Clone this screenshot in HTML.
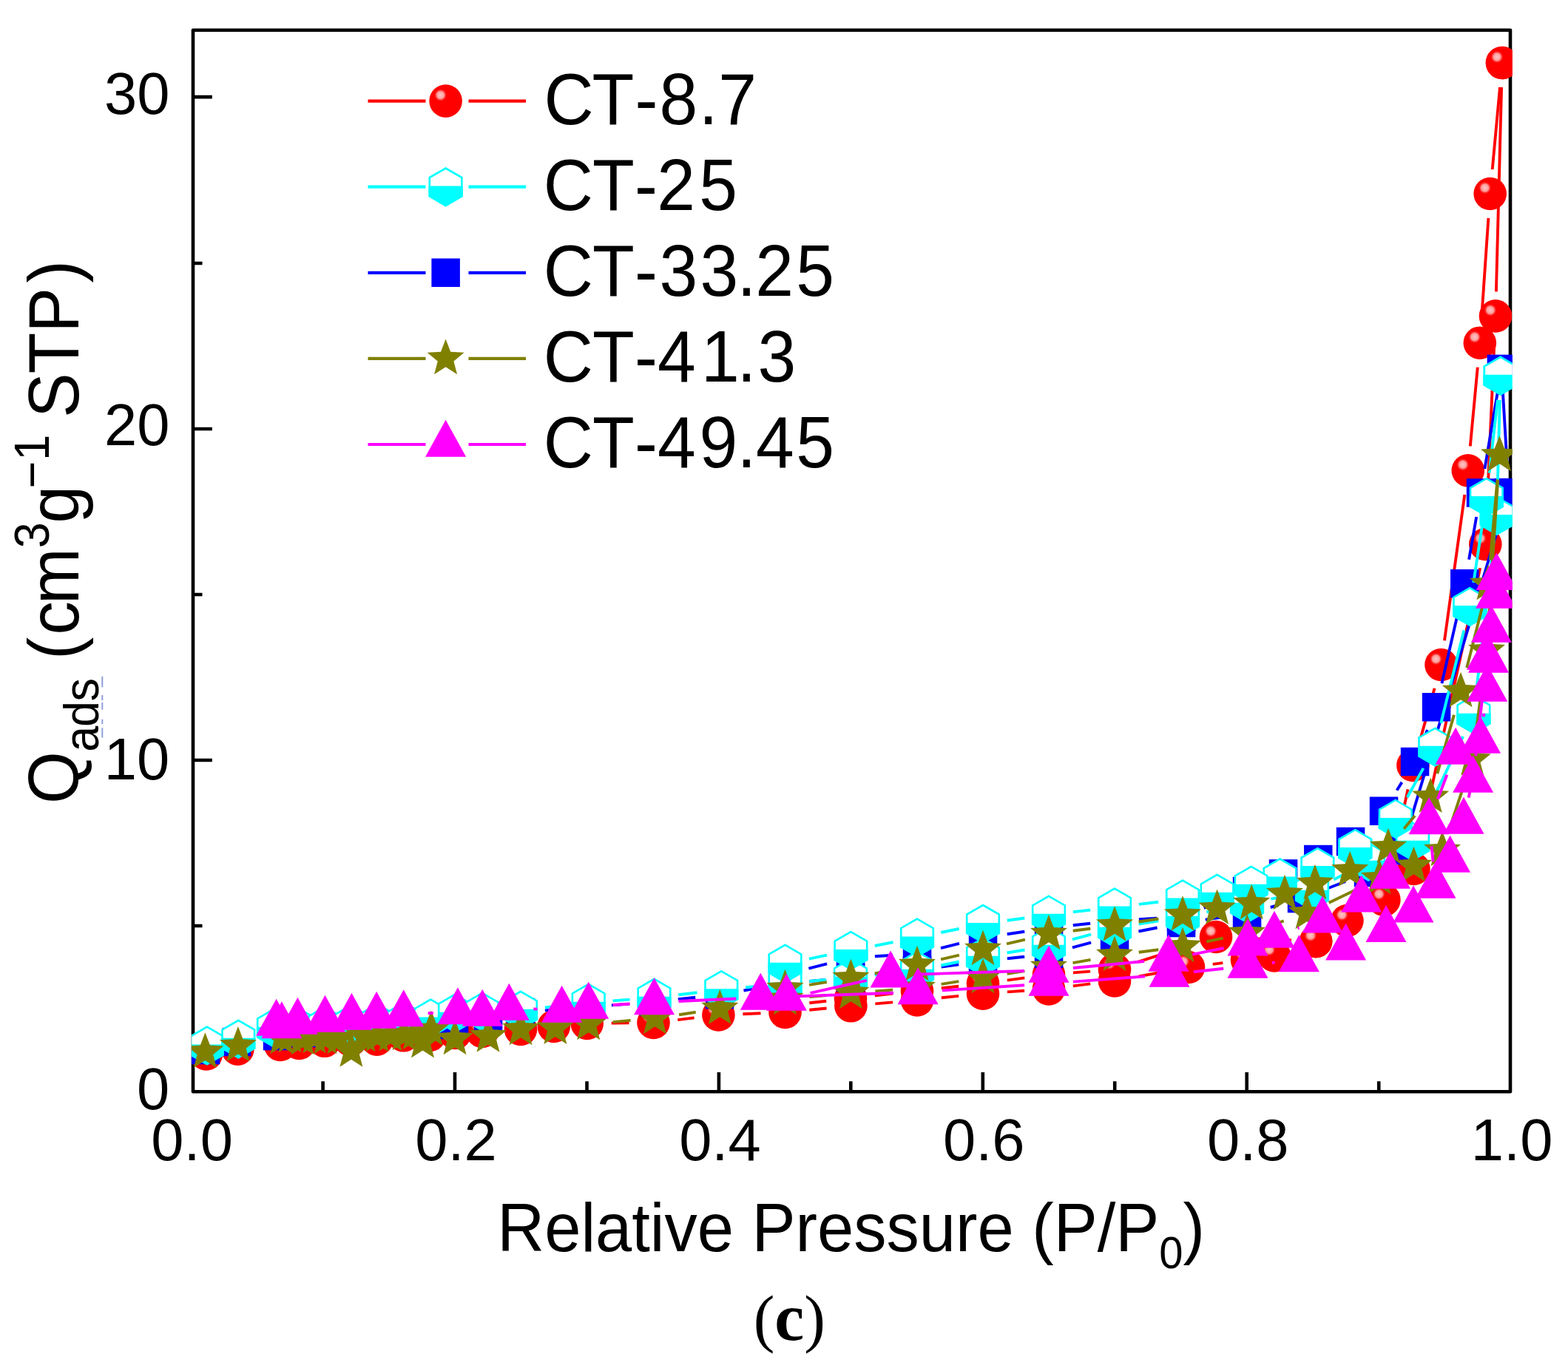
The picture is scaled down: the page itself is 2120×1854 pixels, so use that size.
<!DOCTYPE html><html><head><meta charset="utf-8"><title>Adsorption isotherms (c)</title><style>html,body{margin:0;padding:0;background:#fff;}svg{display:block;}</style></head><body>
<svg xmlns="http://www.w3.org/2000/svg" width="2120" height="1854" viewBox="0 0 2120 1854">
<defs><radialGradient id="ball" cx="0.5" cy="0.5" r="0.5" fx="0.5" fy="0.5"><stop offset="0" stop-color="#ff0000"/><stop offset="1" stop-color="#ff0000"/></radialGradient><radialGradient id="hl" cx="0.5" cy="0.5" r="0.5"><stop offset="0" stop-color="#ffc8c8"/><stop offset="0.55" stop-color="#ff9a9a"/><stop offset="1" stop-color="#ff0000" stop-opacity="0"/></radialGradient><clipPath id="plotclip"><rect x="259" y="38.5" width="1785.6" height="1440.5"/></clipPath></defs>
<rect width="2120" height="1854" fill="#fff"/>
<path d="M261 40.7H2042V1476.3H261Z" fill="none" stroke="#000" stroke-width="4.6" stroke-linejoin="round"/>
<path d="M261 1028.0H286.8M261 580.0H286.8M261 131.1H286.8M261 1252.0H273.5M261 804.0H273.5M261 356.0H273.5M615.0 1476V1450M971.9 1476V1450M1328.8 1476V1450M1685.7 1476V1450M436.6 1476V1462.3M793.5 1476V1462.3M1150.3 1476V1462.3M1507.2 1476V1462.3M1864.2 1476V1462.3" stroke="#000" stroke-width="4.6" fill="none"/>
<g clip-path="url(#plotclip)">
<path d="M826.7 1383.6L850.5 1383.4M916.3 1379.1L938.6 1376.4M1004.4 1371.2L1028.5 1370.3M1094.3 1365.8L1117.6 1363.5M1183.3 1357.4L1207.1 1355.4M1272.8 1349.3L1296.2 1346.9M1361.9 1341.4L1385.1 1339.7M1450.8 1333.4L1474.2 1330.4M1539.5 1320.4L1574.5 1314.0M1639.7 1303.9L1653.3 1302.1M1878.3 1184.6L1903.5 1067.3M1919.3 1003.2L1939.6 930.8M1953.0 866.3L1980.3 669.0M1987.8 603.4L1997.8 496.6M2003.1 430.8L2012.4 294.9M2017.7 229.1L2028.0 117.9" stroke="#ff0000" stroke-width="3.9" fill="none"/>
<path d="M2030.1 118.0L2022.9 394.4M2020.5 460.4L2009.8 703.0M2001.2 768.2L1918.5 1142.8M1884.9 1194.6L1805.5 1253.4M1746.0 1271.5L1677.0 1268.5M1612.6 1277.1L1538.4 1300.9M1474.1 1313.6L1450.9 1315.4M1385.3 1322.4L1361.7 1325.6M1296.2 1333.7L1272.8 1336.3M1207.2 1343.6L1182.8 1346.4M1117.2 1353.7L1094.3 1356.3" stroke="#ff0000" stroke-width="3.9" fill="none"/>
<circle cx="278.9" cy="1425.4" r="22.3" fill="url(#ball)"/>
<circle cx="271.9" cy="1417.4" r="9" fill="url(#hl)"/>
<circle cx="321.4" cy="1418.6" r="22.3" fill="url(#ball)"/>
<circle cx="314.4" cy="1410.6" r="9" fill="url(#hl)"/>
<circle cx="379.0" cy="1413.0" r="22.3" fill="url(#ball)"/>
<circle cx="372.0" cy="1405.0" r="9" fill="url(#hl)"/>
<circle cx="404.4" cy="1411.0" r="22.3" fill="url(#ball)"/>
<circle cx="397.4" cy="1403.0" r="9" fill="url(#hl)"/>
<circle cx="438.8" cy="1407.8" r="22.3" fill="url(#ball)"/>
<circle cx="431.8" cy="1399.8" r="9" fill="url(#hl)"/>
<circle cx="474.0" cy="1406.5" r="22.3" fill="url(#ball)"/>
<circle cx="467.0" cy="1398.5" r="9" fill="url(#hl)"/>
<circle cx="509.6" cy="1405.6" r="22.3" fill="url(#ball)"/>
<circle cx="502.6" cy="1397.6" r="9" fill="url(#hl)"/>
<circle cx="545.6" cy="1400.3" r="22.3" fill="url(#ball)"/>
<circle cx="538.6" cy="1392.3" r="9" fill="url(#hl)"/>
<circle cx="581.0" cy="1400.0" r="22.3" fill="url(#ball)"/>
<circle cx="574.0" cy="1392.0" r="9" fill="url(#hl)"/>
<circle cx="615.5" cy="1397.0" r="22.3" fill="url(#ball)"/>
<circle cx="608.5" cy="1389.0" r="9" fill="url(#hl)"/>
<circle cx="652.0" cy="1395.0" r="22.3" fill="url(#ball)"/>
<circle cx="645.0" cy="1387.0" r="9" fill="url(#hl)"/>
<circle cx="704.0" cy="1392.0" r="22.3" fill="url(#ball)"/>
<circle cx="697.0" cy="1384.0" r="9" fill="url(#hl)"/>
<circle cx="748.8" cy="1388.0" r="22.3" fill="url(#ball)"/>
<circle cx="741.8" cy="1380.0" r="9" fill="url(#hl)"/>
<circle cx="793.7" cy="1384.0" r="22.3" fill="url(#ball)"/>
<circle cx="786.7" cy="1376.0" r="9" fill="url(#hl)"/>
<circle cx="883.5" cy="1383.0" r="22.3" fill="url(#ball)"/>
<circle cx="876.5" cy="1375.0" r="9" fill="url(#hl)"/>
<circle cx="971.4" cy="1372.5" r="22.3" fill="url(#ball)"/>
<circle cx="964.4" cy="1364.5" r="9" fill="url(#hl)"/>
<circle cx="1061.5" cy="1369.0" r="22.3" fill="url(#ball)"/>
<circle cx="1054.5" cy="1361.0" r="9" fill="url(#hl)"/>
<circle cx="1150.4" cy="1360.3" r="22.3" fill="url(#ball)"/>
<circle cx="1143.4" cy="1352.3" r="9" fill="url(#hl)"/>
<circle cx="1240.0" cy="1352.5" r="22.3" fill="url(#ball)"/>
<circle cx="1233.0" cy="1344.5" r="9" fill="url(#hl)"/>
<circle cx="1329.0" cy="1343.7" r="22.3" fill="url(#ball)"/>
<circle cx="1322.0" cy="1335.7" r="9" fill="url(#hl)"/>
<circle cx="1418.0" cy="1337.4" r="22.3" fill="url(#ball)"/>
<circle cx="1411.0" cy="1329.4" r="9" fill="url(#hl)"/>
<circle cx="1507.0" cy="1326.4" r="22.3" fill="url(#ball)"/>
<circle cx="1500.0" cy="1318.4" r="9" fill="url(#hl)"/>
<circle cx="1607.0" cy="1308.0" r="22.3" fill="url(#ball)"/>
<circle cx="1600.0" cy="1300.0" r="9" fill="url(#hl)"/>
<circle cx="1686.0" cy="1298.0" r="22.3" fill="url(#ball)"/>
<circle cx="1679.0" cy="1290.0" r="9" fill="url(#hl)"/>
<circle cx="1723.0" cy="1292.4" r="22.3" fill="url(#ball)"/>
<circle cx="1716.0" cy="1284.4" r="9" fill="url(#hl)"/>
<circle cx="1779.2" cy="1273.1" r="22.3" fill="url(#ball)"/>
<circle cx="1772.2" cy="1265.1" r="9" fill="url(#hl)"/>
<circle cx="1821.4" cy="1245.0" r="22.3" fill="url(#ball)"/>
<circle cx="1814.4" cy="1237.0" r="9" fill="url(#hl)"/>
<circle cx="1871.4" cy="1216.9" r="22.3" fill="url(#ball)"/>
<circle cx="1864.4" cy="1208.9" r="9" fill="url(#hl)"/>
<circle cx="1910.4" cy="1035.0" r="22.3" fill="url(#ball)"/>
<circle cx="1903.4" cy="1027.0" r="9" fill="url(#hl)"/>
<circle cx="1948.5" cy="899.0" r="22.3" fill="url(#ball)"/>
<circle cx="1941.5" cy="891.0" r="9" fill="url(#hl)"/>
<circle cx="1984.8" cy="636.3" r="22.3" fill="url(#ball)"/>
<circle cx="1977.8" cy="628.3" r="9" fill="url(#hl)"/>
<circle cx="2000.8" cy="463.7" r="22.3" fill="url(#ball)"/>
<circle cx="1993.8" cy="455.7" r="9" fill="url(#hl)"/>
<circle cx="2014.7" cy="262.0" r="22.3" fill="url(#ball)"/>
<circle cx="2007.7" cy="254.0" r="9" fill="url(#hl)"/>
<circle cx="2031.0" cy="85.0" r="22.3" fill="url(#ball)"/>
<circle cx="2024.0" cy="77.0" r="9" fill="url(#hl)"/>
<circle cx="2031.0" cy="85.0" r="22.3" fill="url(#ball)"/>
<circle cx="2024.0" cy="77.0" r="9" fill="url(#hl)"/>
<circle cx="2022.0" cy="427.4" r="22.3" fill="url(#ball)"/>
<circle cx="2015.0" cy="419.4" r="9" fill="url(#hl)"/>
<circle cx="2008.3" cy="736.0" r="22.3" fill="url(#ball)"/>
<circle cx="2001.3" cy="728.0" r="9" fill="url(#hl)"/>
<circle cx="1911.4" cy="1175.0" r="22.3" fill="url(#ball)"/>
<circle cx="1904.4" cy="1167.0" r="9" fill="url(#hl)"/>
<circle cx="1779.0" cy="1273.0" r="22.3" fill="url(#ball)"/>
<circle cx="1772.0" cy="1265.0" r="9" fill="url(#hl)"/>
<circle cx="1644.0" cy="1267.0" r="22.3" fill="url(#ball)"/>
<circle cx="1637.0" cy="1259.0" r="9" fill="url(#hl)"/>
<circle cx="1507.0" cy="1311.0" r="22.3" fill="url(#ball)"/>
<circle cx="1500.0" cy="1303.0" r="9" fill="url(#hl)"/>
<circle cx="1418.0" cy="1318.0" r="22.3" fill="url(#ball)"/>
<circle cx="1411.0" cy="1310.0" r="9" fill="url(#hl)"/>
<circle cx="1329.0" cy="1330.0" r="22.3" fill="url(#ball)"/>
<circle cx="1322.0" cy="1322.0" r="9" fill="url(#hl)"/>
<circle cx="1240.0" cy="1340.0" r="22.3" fill="url(#ball)"/>
<circle cx="1233.0" cy="1332.0" r="9" fill="url(#hl)"/>
<circle cx="1150.0" cy="1350.0" r="22.3" fill="url(#ball)"/>
<circle cx="1143.0" cy="1342.0" r="9" fill="url(#hl)"/>
<circle cx="1061.5" cy="1360.0" r="22.3" fill="url(#ball)"/>
<circle cx="1054.5" cy="1352.0" r="9" fill="url(#hl)"/>
<path d="M736.9 1366.4L761.1 1364.6M826.9 1359.4L851.1 1357.6M916.8 1351.3L940.2 1348.7M1005.5 1339.5L1029.0 1335.5M1094.4 1327.0L1117.1 1325.0M1182.8 1318.4L1207.2 1315.6M1272.7 1307.6L1296.3 1304.4M1361.8 1296.3L1385.2 1293.7M1449.9 1281.4L1475.1 1274.6M1539.4 1259.5L1564.6 1254.5M1629.7 1243.6L1653.3 1240.4M1717.7 1227.0L1728.3 1224.0M1790.8 1203.0L1819.2 1192.0M1904.5 1118.4L2030.5 697.6M2038.0 633.1L2032.0 531.9" stroke="#0000ff" stroke-width="3.9" fill="none"/>
<path d="M2024.6 531.5L2007.4 634.0M1996.2 699.0L1986.1 756.6M1972.9 821.3L1949.4 924.1M1929.9 987.0L1925.1 999.3M1895.4 1057.9L1888.6 1068.8M1655.3 1217.1L1627.7 1227.9M1564.1 1241.8L1539.9 1243.2M1474.2 1248.7L1450.8 1251.3M1385.3 1259.8L1361.7 1263.2M1297.0 1275.9L1272.0 1282.1M1207.1 1291.8L1182.9 1293.2M1118.1 1303.3L1093.4 1309.7" stroke="#0000ff" stroke-width="3.9" fill="none"/>
<rect x="258.8" y="1400.8" width="38.5" height="38.5" fill="#0000ff"/>
<rect x="300.8" y="1389.8" width="38.5" height="38.5" fill="#0000ff"/>
<rect x="355.8" y="1381.8" width="38.5" height="38.5" fill="#0000ff"/>
<rect x="390.8" y="1377.8" width="38.5" height="38.5" fill="#0000ff"/>
<rect x="425.8" y="1374.8" width="38.5" height="38.5" fill="#0000ff"/>
<rect x="460.8" y="1372.8" width="38.5" height="38.5" fill="#0000ff"/>
<rect x="495.8" y="1371.8" width="38.5" height="38.5" fill="#0000ff"/>
<rect x="530.8" y="1369.8" width="38.5" height="38.5" fill="#0000ff"/>
<rect x="565.8" y="1366.8" width="38.5" height="38.5" fill="#0000ff"/>
<rect x="594.8" y="1361.8" width="38.5" height="38.5" fill="#0000ff"/>
<rect x="640.8" y="1355.8" width="38.5" height="38.5" fill="#0000ff"/>
<rect x="684.8" y="1349.8" width="38.5" height="38.5" fill="#0000ff"/>
<rect x="774.8" y="1342.8" width="38.5" height="38.5" fill="#0000ff"/>
<rect x="864.8" y="1335.8" width="38.5" height="38.5" fill="#0000ff"/>
<rect x="953.8" y="1325.8" width="38.5" height="38.5" fill="#0000ff"/>
<rect x="1042.2" y="1310.8" width="38.5" height="38.5" fill="#0000ff"/>
<rect x="1130.8" y="1302.8" width="38.5" height="38.5" fill="#0000ff"/>
<rect x="1220.8" y="1292.8" width="38.5" height="38.5" fill="#0000ff"/>
<rect x="1309.8" y="1280.8" width="38.5" height="38.5" fill="#0000ff"/>
<rect x="1398.8" y="1270.8" width="38.5" height="38.5" fill="#0000ff"/>
<rect x="1487.8" y="1246.8" width="38.5" height="38.5" fill="#0000ff"/>
<rect x="1577.8" y="1228.8" width="38.5" height="38.5" fill="#0000ff"/>
<rect x="1666.8" y="1216.8" width="38.5" height="38.5" fill="#0000ff"/>
<rect x="1740.8" y="1195.8" width="38.5" height="38.5" fill="#0000ff"/>
<rect x="1830.8" y="1160.8" width="38.5" height="38.5" fill="#0000ff"/>
<rect x="1875.8" y="1130.8" width="38.5" height="38.5" fill="#0000ff"/>
<rect x="2020.8" y="646.8" width="38.5" height="38.5" fill="#0000ff"/>
<rect x="2010.8" y="479.8" width="38.5" height="38.5" fill="#0000ff"/>
<rect x="2010.8" y="479.8" width="38.5" height="38.5" fill="#0000ff"/>
<rect x="1982.8" y="647.2" width="38.5" height="38.5" fill="#0000ff"/>
<rect x="1961.0" y="769.9" width="38.5" height="38.5" fill="#0000ff"/>
<rect x="1922.8" y="937.0" width="38.5" height="38.5" fill="#0000ff"/>
<rect x="1893.8" y="1010.8" width="38.5" height="38.5" fill="#0000ff"/>
<rect x="1851.8" y="1077.5" width="38.5" height="38.5" fill="#0000ff"/>
<rect x="1806.8" y="1118.8" width="38.5" height="38.5" fill="#0000ff"/>
<rect x="1763.0" y="1142.8" width="38.5" height="38.5" fill="#0000ff"/>
<rect x="1715.8" y="1162.2" width="38.5" height="38.5" fill="#0000ff"/>
<rect x="1666.8" y="1185.8" width="38.5" height="38.5" fill="#0000ff"/>
<rect x="1577.8" y="1220.8" width="38.5" height="38.5" fill="#0000ff"/>
<rect x="1487.8" y="1225.8" width="38.5" height="38.5" fill="#0000ff"/>
<rect x="1398.8" y="1235.8" width="38.5" height="38.5" fill="#0000ff"/>
<rect x="1309.8" y="1248.8" width="38.5" height="38.5" fill="#0000ff"/>
<rect x="1220.8" y="1270.8" width="38.5" height="38.5" fill="#0000ff"/>
<rect x="1130.8" y="1275.8" width="38.5" height="38.5" fill="#0000ff"/>
<rect x="1042.2" y="1298.8" width="38.5" height="38.5" fill="#0000ff"/>
<path d="M736.8 1362.4L762.9 1359.6M828.6 1353.4L851.6 1351.6M917.3 1345.2L942.5 1342.3M1008.1 1335.3L1028.7 1333.2M1094.4 1327.0L1117.1 1325.0M1182.8 1318.4L1207.2 1315.6M1272.3 1305.5L1296.7 1300.5M1361.5 1288.5L1385.5 1284.5M1449.9 1270.4L1475.1 1263.6M1539.6 1249.7L1566.4 1245.3M1631.3 1233.3L1653.7 1228.7M1718.4 1215.7L1741.6 1211.3M1803.2 1189.6L1820.8 1180.4M1924.3 1108.2L1978.1 995.8M1996.2 933.2L2019.9 730.1M2024.6 664.3L2027.8 541.0" stroke="#00ffff" stroke-width="3.9" fill="none"/>
<path d="M2024.9 540.8L2013.6 639.6M2004.8 705.0L1992.3 787.7M1979.4 852.3L1948.2 978.0M1924.4 1038.9L1902.7 1078.3M1566.2 1219.7L1539.8 1222.9M1474.2 1230.6L1450.8 1233.2M1385.3 1241.5L1361.7 1244.7M1296.7 1256.0L1272.3 1261.0M1207.6 1274.1L1182.8 1279.0M1118.0 1291.7L1093.9 1296.6" stroke="#00ffff" stroke-width="3.9" fill="none"/>
<polygon points="279.9,1388.6 301.7,1401.2 301.7,1426.4 279.9,1439.0 258.1,1426.4 258.1,1401.2" fill="#fff" stroke="#00ffff" stroke-width="2.6"/><polygon points="301.7,1413.8 301.7,1426.4 279.9,1439.0 258.1,1426.4 258.1,1413.8" fill="#00ffff" stroke="#00ffff" stroke-width="2.6"/>
<polygon points="322.3,1379.8 344.1,1392.4 344.1,1417.6 322.3,1430.2 300.5,1417.6 300.5,1392.4" fill="#fff" stroke="#00ffff" stroke-width="2.6"/><polygon points="344.1,1405.0 344.1,1417.6 322.3,1430.2 300.5,1417.6 300.5,1405.0" fill="#00ffff" stroke="#00ffff" stroke-width="2.6"/>
<polygon points="370.0,1364.8 391.8,1377.4 391.8,1402.6 370.0,1415.2 348.2,1402.6 348.2,1377.4" fill="#fff" stroke="#00ffff" stroke-width="2.6"/><polygon points="391.8,1390.0 391.8,1402.6 370.0,1415.2 348.2,1402.6 348.2,1390.0" fill="#00ffff" stroke="#00ffff" stroke-width="2.6"/>
<polygon points="404.0,1363.8 425.8,1376.4 425.8,1401.6 404.0,1414.2 382.2,1401.6 382.2,1376.4" fill="#fff" stroke="#00ffff" stroke-width="2.6"/><polygon points="425.8,1389.0 425.8,1401.6 404.0,1414.2 382.2,1401.6 382.2,1389.0" fill="#00ffff" stroke="#00ffff" stroke-width="2.6"/>
<polygon points="439.0,1361.8 460.8,1374.4 460.8,1399.6 439.0,1412.2 417.2,1399.6 417.2,1374.4" fill="#fff" stroke="#00ffff" stroke-width="2.6"/><polygon points="460.8,1387.0 460.8,1399.6 439.0,1412.2 417.2,1399.6 417.2,1387.0" fill="#00ffff" stroke="#00ffff" stroke-width="2.6"/>
<polygon points="474.0,1359.8 495.8,1372.4 495.8,1397.6 474.0,1410.2 452.2,1397.6 452.2,1372.4" fill="#fff" stroke="#00ffff" stroke-width="2.6"/><polygon points="495.8,1385.0 495.8,1397.6 474.0,1410.2 452.2,1397.6 452.2,1385.0" fill="#00ffff" stroke="#00ffff" stroke-width="2.6"/>
<polygon points="510.0,1357.8 531.8,1370.4 531.8,1395.6 510.0,1408.2 488.2,1395.6 488.2,1370.4" fill="#fff" stroke="#00ffff" stroke-width="2.6"/><polygon points="531.8,1383.0 531.8,1395.6 510.0,1408.2 488.2,1395.6 488.2,1383.0" fill="#00ffff" stroke="#00ffff" stroke-width="2.6"/>
<polygon points="546.0,1355.8 567.8,1368.4 567.8,1393.6 546.0,1406.2 524.2,1393.6 524.2,1368.4" fill="#fff" stroke="#00ffff" stroke-width="2.6"/><polygon points="567.8,1381.0 567.8,1393.6 546.0,1406.2 524.2,1393.6 524.2,1381.0" fill="#00ffff" stroke="#00ffff" stroke-width="2.6"/>
<polygon points="582.3,1351.6 604.1,1364.2 604.1,1389.4 582.3,1402.0 560.5,1389.4 560.5,1364.2" fill="#fff" stroke="#00ffff" stroke-width="2.6"/><polygon points="604.1,1376.8 604.1,1389.4 582.3,1402.0 560.5,1389.4 560.5,1376.8" fill="#00ffff" stroke="#00ffff" stroke-width="2.6"/>
<polygon points="615.0,1344.8 636.8,1357.4 636.8,1382.6 615.0,1395.2 593.2,1382.6 593.2,1357.4" fill="#fff" stroke="#00ffff" stroke-width="2.6"/><polygon points="636.8,1370.0 636.8,1382.6 615.0,1395.2 593.2,1382.6 593.2,1370.0" fill="#00ffff" stroke="#00ffff" stroke-width="2.6"/>
<polygon points="652.0,1342.8 673.8,1355.4 673.8,1380.6 652.0,1393.2 630.2,1380.6 630.2,1355.4" fill="#fff" stroke="#00ffff" stroke-width="2.6"/><polygon points="673.8,1368.0 673.8,1380.6 652.0,1393.2 630.2,1380.6 630.2,1368.0" fill="#00ffff" stroke="#00ffff" stroke-width="2.6"/>
<polygon points="704.0,1340.8 725.8,1353.4 725.8,1378.6 704.0,1391.2 682.2,1378.6 682.2,1353.4" fill="#fff" stroke="#00ffff" stroke-width="2.6"/><polygon points="725.8,1366.0 725.8,1378.6 704.0,1391.2 682.2,1378.6 682.2,1366.0" fill="#00ffff" stroke="#00ffff" stroke-width="2.6"/>
<polygon points="795.7,1330.8 817.5,1343.4 817.5,1368.6 795.7,1381.2 773.9,1368.6 773.9,1343.4" fill="#fff" stroke="#00ffff" stroke-width="2.6"/><polygon points="817.5,1356.0 817.5,1368.6 795.7,1381.2 773.9,1368.6 773.9,1356.0" fill="#00ffff" stroke="#00ffff" stroke-width="2.6"/>
<polygon points="884.5,1323.8 906.3,1336.4 906.3,1361.6 884.5,1374.2 862.7,1361.6 862.7,1336.4" fill="#fff" stroke="#00ffff" stroke-width="2.6"/><polygon points="906.3,1349.0 906.3,1361.6 884.5,1374.2 862.7,1361.6 862.7,1349.0" fill="#00ffff" stroke="#00ffff" stroke-width="2.6"/>
<polygon points="975.3,1313.3 997.1,1325.9 997.1,1351.1 975.3,1363.7 953.5,1351.1 953.5,1325.9" fill="#fff" stroke="#00ffff" stroke-width="2.6"/><polygon points="997.1,1338.5 997.1,1351.1 975.3,1363.7 953.5,1351.1 953.5,1338.5" fill="#00ffff" stroke="#00ffff" stroke-width="2.6"/>
<polygon points="1061.5,1304.8 1083.3,1317.4 1083.3,1342.6 1061.5,1355.2 1039.7,1342.6 1039.7,1317.4" fill="#fff" stroke="#00ffff" stroke-width="2.6"/><polygon points="1083.3,1330.0 1083.3,1342.6 1061.5,1355.2 1039.7,1342.6 1039.7,1330.0" fill="#00ffff" stroke="#00ffff" stroke-width="2.6"/>
<polygon points="1150.0,1296.8 1171.8,1309.4 1171.8,1334.6 1150.0,1347.2 1128.2,1334.6 1128.2,1309.4" fill="#fff" stroke="#00ffff" stroke-width="2.6"/><polygon points="1171.8,1322.0 1171.8,1334.6 1150.0,1347.2 1128.2,1334.6 1128.2,1322.0" fill="#00ffff" stroke="#00ffff" stroke-width="2.6"/>
<polygon points="1240.0,1286.8 1261.8,1299.4 1261.8,1324.6 1240.0,1337.2 1218.2,1324.6 1218.2,1299.4" fill="#fff" stroke="#00ffff" stroke-width="2.6"/><polygon points="1261.8,1312.0 1261.8,1324.6 1240.0,1337.2 1218.2,1324.6 1218.2,1312.0" fill="#00ffff" stroke="#00ffff" stroke-width="2.6"/>
<polygon points="1329.0,1268.8 1350.8,1281.4 1350.8,1306.6 1329.0,1319.2 1307.2,1306.6 1307.2,1281.4" fill="#fff" stroke="#00ffff" stroke-width="2.6"/><polygon points="1350.8,1294.0 1350.8,1306.6 1329.0,1319.2 1307.2,1306.6 1307.2,1294.0" fill="#00ffff" stroke="#00ffff" stroke-width="2.6"/>
<polygon points="1418.0,1253.8 1439.8,1266.4 1439.8,1291.6 1418.0,1304.2 1396.2,1291.6 1396.2,1266.4" fill="#fff" stroke="#00ffff" stroke-width="2.6"/><polygon points="1439.8,1279.0 1439.8,1291.6 1418.0,1304.2 1396.2,1291.6 1396.2,1279.0" fill="#00ffff" stroke="#00ffff" stroke-width="2.6"/>
<polygon points="1507.0,1229.8 1528.8,1242.4 1528.8,1267.6 1507.0,1280.2 1485.2,1267.6 1485.2,1242.4" fill="#fff" stroke="#00ffff" stroke-width="2.6"/><polygon points="1528.8,1255.0 1528.8,1267.6 1507.0,1280.2 1485.2,1267.6 1485.2,1255.0" fill="#00ffff" stroke="#00ffff" stroke-width="2.6"/>
<polygon points="1599.0,1214.8 1620.8,1227.4 1620.8,1252.6 1599.0,1265.2 1577.2,1252.6 1577.2,1227.4" fill="#fff" stroke="#00ffff" stroke-width="2.6"/><polygon points="1620.8,1240.0 1620.8,1252.6 1599.0,1265.2 1577.2,1252.6 1577.2,1240.0" fill="#00ffff" stroke="#00ffff" stroke-width="2.6"/>
<polygon points="1686.0,1196.8 1707.8,1209.4 1707.8,1234.6 1686.0,1247.2 1664.2,1234.6 1664.2,1209.4" fill="#fff" stroke="#00ffff" stroke-width="2.6"/><polygon points="1707.8,1222.0 1707.8,1234.6 1686.0,1247.2 1664.2,1234.6 1664.2,1222.0" fill="#00ffff" stroke="#00ffff" stroke-width="2.6"/>
<polygon points="1774.0,1179.8 1795.8,1192.4 1795.8,1217.6 1774.0,1230.2 1752.2,1217.6 1752.2,1192.4" fill="#fff" stroke="#00ffff" stroke-width="2.6"/><polygon points="1795.8,1205.0 1795.8,1217.6 1774.0,1230.2 1752.2,1217.6 1752.2,1205.0" fill="#00ffff" stroke="#00ffff" stroke-width="2.6"/>
<polygon points="1850.0,1139.8 1871.8,1152.4 1871.8,1177.6 1850.0,1190.2 1828.2,1177.6 1828.2,1152.4" fill="#fff" stroke="#00ffff" stroke-width="2.6"/><polygon points="1871.8,1165.0 1871.8,1177.6 1850.0,1190.2 1828.2,1177.6 1828.2,1165.0" fill="#00ffff" stroke="#00ffff" stroke-width="2.6"/>
<polygon points="1910.0,1112.8 1931.8,1125.4 1931.8,1150.6 1910.0,1163.2 1888.2,1150.6 1888.2,1125.4" fill="#fff" stroke="#00ffff" stroke-width="2.6"/><polygon points="1931.8,1138.0 1931.8,1150.6 1910.0,1163.2 1888.2,1150.6 1888.2,1138.0" fill="#00ffff" stroke="#00ffff" stroke-width="2.6"/>
<polygon points="1992.4,940.8 2014.2,953.4 2014.2,978.6 1992.4,991.2 1970.6,978.6 1970.6,953.4" fill="#fff" stroke="#00ffff" stroke-width="2.6"/><polygon points="2014.2,966.0 2014.2,978.6 1992.4,991.2 1970.6,978.6 1970.6,966.0" fill="#00ffff" stroke="#00ffff" stroke-width="2.6"/>
<polygon points="2023.7,672.1 2045.5,684.7 2045.5,709.9 2023.7,722.5 2001.9,709.9 2001.9,684.7" fill="#fff" stroke="#00ffff" stroke-width="2.6"/><polygon points="2045.5,697.3 2045.5,709.9 2023.7,722.5 2001.9,709.9 2001.9,697.3" fill="#00ffff" stroke="#00ffff" stroke-width="2.6"/>
<polygon points="2028.7,482.8 2050.5,495.4 2050.5,520.6 2028.7,533.2 2006.9,520.6 2006.9,495.4" fill="#fff" stroke="#00ffff" stroke-width="2.6"/><polygon points="2050.5,508.0 2050.5,520.6 2028.7,533.2 2006.9,520.6 2006.9,508.0" fill="#00ffff" stroke="#00ffff" stroke-width="2.6"/>
<polygon points="2028.7,482.8 2050.5,495.4 2050.5,520.6 2028.7,533.2 2006.9,520.6 2006.9,495.4" fill="#fff" stroke="#00ffff" stroke-width="2.6"/><polygon points="2050.5,508.0 2050.5,520.6 2028.7,533.2 2006.9,520.6 2006.9,508.0" fill="#00ffff" stroke="#00ffff" stroke-width="2.6"/>
<polygon points="2009.8,647.2 2031.6,659.8 2031.6,685.0 2009.8,697.6 1988.0,685.0 1988.0,659.8" fill="#fff" stroke="#00ffff" stroke-width="2.6"/><polygon points="2031.6,672.4 2031.6,685.0 2009.8,697.6 1988.0,685.0 1988.0,672.4" fill="#00ffff" stroke="#00ffff" stroke-width="2.6"/>
<polygon points="1987.3,795.1 2009.1,807.7 2009.1,832.9 1987.3,845.5 1965.5,832.9 1965.5,807.7" fill="#fff" stroke="#00ffff" stroke-width="2.6"/><polygon points="2009.1,820.3 2009.1,832.9 1987.3,845.5 1965.5,832.9 1965.5,820.3" fill="#00ffff" stroke="#00ffff" stroke-width="2.6"/>
<polygon points="1940.3,984.8 1962.1,997.4 1962.1,1022.6 1940.3,1035.2 1918.5,1022.6 1918.5,997.4" fill="#fff" stroke="#00ffff" stroke-width="2.6"/><polygon points="1962.1,1010.0 1962.1,1022.6 1940.3,1035.2 1918.5,1022.6 1918.5,1010.0" fill="#00ffff" stroke="#00ffff" stroke-width="2.6"/>
<polygon points="1886.8,1082.0 1908.6,1094.7 1908.6,1119.8 1886.8,1132.5 1865.0,1119.8 1865.0,1094.7" fill="#fff" stroke="#00ffff" stroke-width="2.6"/><polygon points="1908.6,1107.2 1908.6,1119.8 1886.8,1132.5 1865.0,1119.8 1865.0,1107.2" fill="#00ffff" stroke="#00ffff" stroke-width="2.6"/>
<polygon points="1832.3,1122.2 1854.1,1134.8 1854.1,1160.0 1832.3,1172.6 1810.5,1160.0 1810.5,1134.8" fill="#fff" stroke="#00ffff" stroke-width="2.6"/><polygon points="1854.1,1147.4 1854.1,1160.0 1832.3,1172.6 1810.5,1160.0 1810.5,1147.4" fill="#00ffff" stroke="#00ffff" stroke-width="2.6"/>
<polygon points="1781.4,1147.2 1803.2,1159.8 1803.2,1185.0 1781.4,1197.6 1759.6,1185.0 1759.6,1159.8" fill="#fff" stroke="#00ffff" stroke-width="2.6"/><polygon points="1803.2,1172.4 1803.2,1185.0 1781.4,1197.6 1759.6,1185.0 1759.6,1172.4" fill="#00ffff" stroke="#00ffff" stroke-width="2.6"/>
<polygon points="1730.5,1161.5 1752.3,1174.1 1752.3,1199.3 1730.5,1211.9 1708.7,1199.3 1708.7,1174.1" fill="#fff" stroke="#00ffff" stroke-width="2.6"/><polygon points="1752.3,1186.7 1752.3,1199.3 1730.5,1211.9 1708.7,1199.3 1708.7,1186.7" fill="#00ffff" stroke="#00ffff" stroke-width="2.6"/>
<polygon points="1691.7,1171.8 1713.5,1184.4 1713.5,1209.6 1691.7,1222.2 1669.9,1209.6 1669.9,1184.4" fill="#fff" stroke="#00ffff" stroke-width="2.6"/><polygon points="1713.5,1197.0 1713.5,1209.6 1691.7,1222.2 1669.9,1209.6 1669.9,1197.0" fill="#00ffff" stroke="#00ffff" stroke-width="2.6"/>
<polygon points="1645.6,1182.8 1667.4,1195.4 1667.4,1220.6 1645.6,1233.2 1623.8,1220.6 1623.8,1195.4" fill="#fff" stroke="#00ffff" stroke-width="2.6"/><polygon points="1667.4,1208.0 1667.4,1220.6 1645.6,1233.2 1623.8,1220.6 1623.8,1208.0" fill="#00ffff" stroke="#00ffff" stroke-width="2.6"/>
<polygon points="1599.0,1190.6 1620.8,1203.2 1620.8,1228.4 1599.0,1241.0 1577.2,1228.4 1577.2,1203.2" fill="#fff" stroke="#00ffff" stroke-width="2.6"/><polygon points="1620.8,1215.8 1620.8,1228.4 1599.0,1241.0 1577.2,1228.4 1577.2,1215.8" fill="#00ffff" stroke="#00ffff" stroke-width="2.6"/>
<polygon points="1507.0,1201.6 1528.8,1214.2 1528.8,1239.4 1507.0,1252.0 1485.2,1239.4 1485.2,1214.2" fill="#fff" stroke="#00ffff" stroke-width="2.6"/><polygon points="1528.8,1226.8 1528.8,1239.4 1507.0,1252.0 1485.2,1239.4 1485.2,1226.8" fill="#00ffff" stroke="#00ffff" stroke-width="2.6"/>
<polygon points="1418.0,1211.8 1439.8,1224.4 1439.8,1249.6 1418.0,1262.2 1396.2,1249.6 1396.2,1224.4" fill="#fff" stroke="#00ffff" stroke-width="2.6"/><polygon points="1439.8,1237.0 1439.8,1249.6 1418.0,1262.2 1396.2,1249.6 1396.2,1237.0" fill="#00ffff" stroke="#00ffff" stroke-width="2.6"/>
<polygon points="1329.0,1224.0 1350.8,1236.6 1350.8,1261.8 1329.0,1274.4 1307.2,1261.8 1307.2,1236.6" fill="#fff" stroke="#00ffff" stroke-width="2.6"/><polygon points="1350.8,1249.2 1350.8,1261.8 1329.0,1274.4 1307.2,1261.8 1307.2,1249.2" fill="#00ffff" stroke="#00ffff" stroke-width="2.6"/>
<polygon points="1240.0,1242.6 1261.8,1255.2 1261.8,1280.4 1240.0,1293.0 1218.2,1280.4 1218.2,1255.2" fill="#fff" stroke="#00ffff" stroke-width="2.6"/><polygon points="1261.8,1267.8 1261.8,1280.4 1240.0,1293.0 1218.2,1280.4 1218.2,1267.8" fill="#00ffff" stroke="#00ffff" stroke-width="2.6"/>
<polygon points="1150.4,1260.1 1172.2,1272.7 1172.2,1297.9 1150.4,1310.5 1128.6,1297.9 1128.6,1272.7" fill="#fff" stroke="#00ffff" stroke-width="2.6"/><polygon points="1172.2,1285.3 1172.2,1297.9 1150.4,1310.5 1128.6,1297.9 1128.6,1285.3" fill="#00ffff" stroke="#00ffff" stroke-width="2.6"/>
<polygon points="1061.5,1277.8 1083.3,1290.4 1083.3,1315.6 1061.5,1328.2 1039.7,1315.6 1039.7,1290.4" fill="#fff" stroke="#00ffff" stroke-width="2.6"/><polygon points="1083.3,1303.0 1083.3,1315.6 1061.5,1328.2 1039.7,1315.6 1039.7,1303.0" fill="#00ffff" stroke="#00ffff" stroke-width="2.6"/>
<path d="M828.6 1382.1L852.6 1379.9M918.1 1372.2L940.7 1368.8M1005.9 1359.2L1028.9 1355.8M1094.4 1348.0L1117.5 1346.0M1183.3 1340.4L1207.1 1338.6M1272.6 1330.9L1296.4 1327.1M1361.6 1316.9L1385.4 1313.1M1450.5 1302.2L1474.5 1297.8M1539.7 1287.7L1566.3 1284.3M1631.3 1273.3L1653.7 1268.7M1717.3 1251.6L1735.7 1245.4M1796.8 1220.7L1835.2 1202.3M1960.4 1118.7L1980.3 1058.8M1995.0 994.8L2005.7 912.7M2012.2 847.1L2025.2 648.7" stroke="#808000" stroke-width="3.9" fill="none"/>
<path d="M2024.5 648.7L2014.9 757.1M2003.8 822.0L1983.2 903.0M1965.9 966.7L1943.3 1046.1M1913.0 1103.1L1898.2 1120.7M1566.4 1242.5L1539.6 1246.5M1474.3 1255.7L1450.7 1258.8M1385.9 1270.6L1361.1 1276.4M1296.9 1291.6L1272.1 1297.4M1207.6 1311.5L1182.8 1316.5M1117.8 1328.1L1094.1 1331.9" stroke="#808000" stroke-width="3.9" fill="none"/>
<polygon points="277.4,1396.3 284.0,1413.5 302.4,1414.5 288.2,1426.1 292.9,1443.9 277.4,1433.9 261.9,1443.9 266.6,1426.1 252.4,1414.5 270.8,1413.5" fill="#808000"/>
<polygon points="321.9,1388.0 328.5,1405.2 346.9,1406.2 332.7,1417.8 337.4,1435.6 321.9,1425.6 306.4,1435.6 311.1,1417.8 296.9,1406.2 315.3,1405.2" fill="#808000"/>
<polygon points="381.0,1377.7 387.6,1394.9 406.0,1395.9 391.8,1407.5 396.5,1425.3 381.0,1415.3 365.5,1425.3 370.2,1407.5 356.0,1395.9 374.4,1394.9" fill="#808000"/>
<polygon points="409.0,1378.7 415.6,1395.9 434.0,1396.9 419.8,1408.5 424.5,1426.3 409.0,1416.3 393.5,1426.3 398.2,1408.5 384.0,1396.9 402.4,1395.9" fill="#808000"/>
<polygon points="440.0,1377.7 446.6,1394.9 465.0,1395.9 450.8,1407.5 455.5,1425.3 440.0,1415.3 424.5,1425.3 429.2,1407.5 415.0,1395.9 433.4,1394.9" fill="#808000"/>
<polygon points="474.9,1395.2 481.5,1412.4 499.9,1413.4 485.7,1425.0 490.4,1442.8 474.9,1432.8 459.4,1442.8 464.1,1425.0 449.9,1413.4 468.3,1412.4" fill="#808000"/>
<polygon points="510.0,1374.7 516.6,1391.9 535.0,1392.9 520.8,1404.5 525.5,1422.3 510.0,1412.3 494.5,1422.3 499.2,1404.5 485.0,1392.9 503.4,1391.9" fill="#808000"/>
<polygon points="546.0,1372.7 552.6,1389.9 571.0,1390.9 556.8,1402.5 561.5,1420.3 546.0,1410.3 530.5,1420.3 535.2,1402.5 521.0,1390.9 539.4,1389.9" fill="#808000"/>
<polygon points="571.5,1382.9 578.1,1400.1 596.5,1401.1 582.3,1412.7 587.0,1430.5 571.5,1420.5 556.0,1430.5 560.7,1412.7 546.5,1401.1 564.9,1400.1" fill="#808000"/>
<polygon points="615.0,1378.7 621.6,1395.9 640.0,1396.9 625.8,1408.5 630.5,1426.3 615.0,1416.3 599.5,1426.3 604.2,1408.5 590.0,1396.9 608.4,1395.9" fill="#808000"/>
<polygon points="660.0,1375.1 666.6,1392.3 685.0,1393.3 670.8,1404.9 675.5,1422.7 660.0,1412.7 644.5,1422.7 649.2,1404.9 635.0,1393.3 653.4,1392.3" fill="#808000"/>
<polygon points="704.0,1365.7 710.6,1382.9 729.0,1383.9 714.8,1395.5 719.5,1413.3 704.0,1403.3 688.5,1413.3 693.2,1395.5 679.0,1383.9 697.4,1382.9" fill="#808000"/>
<polygon points="750.8,1364.3 757.4,1381.5 775.8,1382.5 761.6,1394.1 766.3,1411.9 750.8,1401.9 735.3,1411.9 740.0,1394.1 725.8,1382.5 744.2,1381.5" fill="#808000"/>
<polygon points="795.7,1358.7 802.3,1375.9 820.7,1376.9 806.5,1388.5 811.2,1406.3 795.7,1396.3 780.2,1406.3 784.9,1388.5 770.7,1376.9 789.1,1375.9" fill="#808000"/>
<polygon points="885.5,1350.7 892.1,1367.9 910.5,1368.9 896.3,1380.5 901.0,1398.3 885.5,1388.3 870.0,1398.3 874.7,1380.5 860.5,1368.9 878.9,1367.9" fill="#808000"/>
<polygon points="973.3,1337.7 979.9,1354.9 998.3,1355.9 984.1,1367.5 988.8,1385.3 973.3,1375.3 957.8,1385.3 962.5,1367.5 948.3,1355.9 966.7,1354.9" fill="#808000"/>
<polygon points="1061.5,1324.7 1068.1,1341.9 1086.5,1342.9 1072.3,1354.5 1077.0,1372.3 1061.5,1362.3 1046.0,1372.3 1050.7,1354.5 1036.5,1342.9 1054.9,1341.9" fill="#808000"/>
<polygon points="1150.4,1316.7 1157.0,1333.9 1175.4,1334.9 1161.2,1346.5 1165.9,1364.3 1150.4,1354.3 1134.9,1364.3 1139.6,1346.5 1125.4,1334.9 1143.8,1333.9" fill="#808000"/>
<polygon points="1240.0,1309.7 1246.6,1326.9 1265.0,1327.9 1250.8,1339.5 1255.5,1357.3 1240.0,1347.3 1224.5,1357.3 1229.2,1339.5 1215.0,1327.9 1233.4,1326.9" fill="#808000"/>
<polygon points="1329.0,1295.7 1335.6,1312.9 1354.0,1313.9 1339.8,1325.5 1344.5,1343.3 1329.0,1333.3 1313.5,1343.3 1318.2,1325.5 1304.0,1313.9 1322.4,1312.9" fill="#808000"/>
<polygon points="1418.0,1281.7 1424.6,1298.9 1443.0,1299.9 1428.8,1311.5 1433.5,1329.3 1418.0,1319.3 1402.5,1329.3 1407.2,1311.5 1393.0,1299.9 1411.4,1298.9" fill="#808000"/>
<polygon points="1507.0,1265.7 1513.6,1282.9 1532.0,1283.9 1517.8,1295.5 1522.5,1313.3 1507.0,1303.3 1491.5,1313.3 1496.2,1295.5 1482.0,1283.9 1500.4,1282.9" fill="#808000"/>
<polygon points="1599.0,1253.7 1605.6,1270.9 1624.0,1271.9 1609.8,1283.5 1614.5,1301.3 1599.0,1291.3 1583.5,1301.3 1588.2,1283.5 1574.0,1271.9 1592.4,1270.9" fill="#808000"/>
<polygon points="1686.0,1235.7 1692.6,1252.9 1711.0,1253.9 1696.8,1265.5 1701.5,1283.3 1686.0,1273.3 1670.5,1283.3 1675.2,1265.5 1661.0,1253.9 1679.4,1252.9" fill="#808000"/>
<polygon points="1767.0,1208.7 1773.6,1225.9 1792.0,1226.9 1777.8,1238.5 1782.5,1256.3 1767.0,1246.3 1751.5,1256.3 1756.2,1238.5 1742.0,1226.9 1760.4,1225.9" fill="#808000"/>
<polygon points="1865.0,1161.7 1871.6,1178.9 1890.0,1179.9 1875.8,1191.5 1880.5,1209.3 1865.0,1199.3 1849.5,1209.3 1854.2,1191.5 1840.0,1179.9 1858.4,1178.9" fill="#808000"/>
<polygon points="1911.4,1144.7 1918.0,1161.9 1936.4,1162.9 1922.2,1174.5 1926.9,1192.3 1911.4,1182.3 1895.9,1192.3 1900.6,1174.5 1886.4,1162.9 1904.8,1161.9" fill="#808000"/>
<polygon points="1950.0,1123.7 1956.6,1140.9 1975.0,1141.9 1960.8,1153.5 1965.5,1171.3 1950.0,1161.3 1934.5,1171.3 1939.2,1153.5 1925.0,1141.9 1943.4,1140.9" fill="#808000"/>
<polygon points="1990.7,1001.2 1997.3,1018.4 2015.7,1019.4 2001.5,1031.0 2006.2,1048.8 1990.7,1038.8 1975.2,1048.8 1979.9,1031.0 1965.7,1019.4 1984.1,1018.4" fill="#808000"/>
<polygon points="2010.0,853.7 2016.6,870.9 2035.0,871.9 2020.8,883.5 2025.5,901.3 2010.0,891.3 1994.5,901.3 1999.2,883.5 1985.0,871.9 2003.4,870.9" fill="#808000"/>
<polygon points="2027.4,589.5 2034.0,606.7 2052.4,607.7 2038.2,619.3 2042.9,637.1 2027.4,627.1 2011.9,637.1 2016.6,619.3 2002.4,607.7 2020.8,606.7" fill="#808000"/>
<polygon points="2027.4,589.5 2034.0,606.7 2052.4,607.7 2038.2,619.3 2042.9,637.1 2027.4,627.1 2011.9,637.1 2016.6,619.3 2002.4,607.7 2020.8,606.7" fill="#808000"/>
<polygon points="2012.0,763.7 2018.6,780.9 2037.0,781.9 2022.8,793.5 2027.5,811.3 2012.0,801.3 1996.5,811.3 2001.2,793.5 1987.0,781.9 2005.4,780.9" fill="#808000"/>
<polygon points="1975.0,908.7 1981.6,925.9 2000.0,926.9 1985.8,938.5 1990.5,956.3 1975.0,946.3 1959.5,956.3 1964.2,938.5 1950.0,926.9 1968.4,925.9" fill="#808000"/>
<polygon points="1934.2,1051.5 1940.8,1068.7 1959.2,1069.7 1945.0,1081.3 1949.7,1099.1 1934.2,1089.1 1918.7,1099.1 1923.4,1081.3 1909.2,1069.7 1927.6,1068.7" fill="#808000"/>
<polygon points="1877.0,1119.7 1883.6,1136.9 1902.0,1137.9 1887.8,1149.5 1892.5,1167.3 1877.0,1157.3 1861.5,1167.3 1866.2,1149.5 1852.0,1137.9 1870.4,1136.9" fill="#808000"/>
<polygon points="1825.2,1151.1 1831.8,1168.3 1850.2,1169.3 1836.0,1180.9 1840.7,1198.7 1825.2,1188.7 1809.7,1198.7 1814.4,1180.9 1800.2,1169.3 1818.6,1168.3" fill="#808000"/>
<polygon points="1777.9,1168.7 1784.5,1185.9 1802.9,1186.9 1788.7,1198.5 1793.4,1216.3 1777.9,1206.3 1762.4,1216.3 1767.1,1198.5 1752.9,1186.9 1771.3,1185.9" fill="#808000"/>
<polygon points="1737.0,1182.7 1743.6,1199.9 1762.0,1200.9 1747.8,1212.5 1752.5,1230.3 1737.0,1220.3 1721.5,1230.3 1726.2,1212.5 1712.0,1200.9 1730.4,1199.9" fill="#808000"/>
<polygon points="1692.2,1195.7 1698.8,1212.9 1717.2,1213.9 1703.0,1225.5 1707.7,1243.3 1692.2,1233.3 1676.7,1243.3 1681.4,1225.5 1667.2,1213.9 1685.6,1212.9" fill="#808000"/>
<polygon points="1645.6,1202.5 1652.2,1219.7 1670.6,1220.7 1656.4,1232.3 1661.1,1250.1 1645.6,1240.1 1630.1,1250.1 1634.8,1232.3 1620.6,1220.7 1639.0,1219.7" fill="#808000"/>
<polygon points="1599.0,1211.2 1605.6,1228.4 1624.0,1229.4 1609.8,1241.0 1614.5,1258.8 1599.0,1248.8 1583.5,1258.8 1588.2,1241.0 1574.0,1229.4 1592.4,1228.4" fill="#808000"/>
<polygon points="1507.0,1225.2 1513.6,1242.4 1532.0,1243.4 1517.8,1255.0 1522.5,1272.8 1507.0,1262.8 1491.5,1272.8 1496.2,1255.0 1482.0,1243.4 1500.4,1242.4" fill="#808000"/>
<polygon points="1418.0,1236.7 1424.6,1253.9 1443.0,1254.9 1428.8,1266.5 1433.5,1284.3 1418.0,1274.3 1402.5,1284.3 1407.2,1266.5 1393.0,1254.9 1411.4,1253.9" fill="#808000"/>
<polygon points="1329.0,1257.7 1335.6,1274.9 1354.0,1275.9 1339.8,1287.5 1344.5,1305.3 1329.0,1295.3 1313.5,1305.3 1318.2,1287.5 1304.0,1275.9 1322.4,1274.9" fill="#808000"/>
<polygon points="1240.0,1278.7 1246.6,1295.9 1265.0,1296.9 1250.8,1308.5 1255.5,1326.3 1240.0,1316.3 1224.5,1326.3 1229.2,1308.5 1215.0,1296.9 1233.4,1295.9" fill="#808000"/>
<polygon points="1150.4,1296.7 1157.0,1313.9 1175.4,1314.9 1161.2,1326.5 1165.9,1344.3 1150.4,1334.3 1134.9,1344.3 1139.6,1326.5 1125.4,1314.9 1143.8,1313.9" fill="#808000"/>
<polygon points="1061.5,1310.7 1068.1,1327.9 1086.5,1328.9 1072.3,1340.5 1077.0,1358.3 1061.5,1348.3 1046.0,1358.3 1050.7,1340.5 1036.5,1328.9 1054.9,1327.9" fill="#808000"/>
<polygon points="392.0,1375.7 398.6,1392.9 417.0,1393.9 402.8,1405.5 407.5,1423.3 392.0,1413.3 376.5,1423.3 381.2,1405.5 367.0,1393.9 385.4,1392.9" fill="#808000"/>
<polygon points="425.0,1376.7 431.6,1393.9 450.0,1394.9 435.8,1406.5 440.5,1424.3 425.0,1414.3 409.5,1424.3 414.2,1406.5 400.0,1394.9 418.4,1393.9" fill="#808000"/>
<polygon points="458.0,1377.7 464.6,1394.9 483.0,1395.9 468.8,1407.5 473.5,1425.3 458.0,1415.3 442.5,1425.3 447.2,1407.5 433.0,1395.9 451.4,1394.9" fill="#808000"/>
<polygon points="492.0,1374.7 498.6,1391.9 517.0,1392.9 502.8,1404.5 507.5,1422.3 492.0,1412.3 476.5,1422.3 481.2,1404.5 467.0,1392.9 485.4,1391.9" fill="#808000"/>
<polygon points="528.0,1373.7 534.6,1390.9 553.0,1391.9 538.8,1403.5 543.5,1421.3 528.0,1411.3 512.5,1421.3 517.2,1403.5 503.0,1391.9 521.4,1390.9" fill="#808000"/>
<polygon points="560.0,1371.7 566.6,1388.9 585.0,1389.9 570.8,1401.5 575.5,1419.3 560.0,1409.3 544.5,1419.3 549.2,1401.5 535.0,1389.9 553.4,1388.9" fill="#808000"/>
<polygon points="583.0,1366.2 589.6,1383.4 608.0,1384.4 593.8,1396.0 598.5,1413.8 583.0,1403.8 567.5,1413.8 572.2,1396.0 558.0,1384.4 576.4,1383.4" fill="#808000"/>
<path d="M578.7 1370.2L585.9 1370.0M721.3 1364.4L726.6 1364.6M828.6 1359.0L851.6 1357.5M917.5 1354.0L995.3 1350.5M1061.3 1347.9L1208.1 1342.7M1274.0 1339.4L1385.1 1332.2M1450.9 1327.6L1548.1 1320.4M1613.8 1314.3L1654.2 1309.7M1719.8 1302.0L1723.6 1301.6M1930.5 1204.3L1941.1 1189.6M1985.7 1078.7L1994.9 1034.3M2005.9 969.3L2006.5 964.7M2013.1 899.1L2014.1 884.9M2019.7 819.2L2020.2 813.8" stroke="#ff00ff" stroke-width="3.9" fill="none"/>
<path d="M2018.7 838.8L2016.3 860.2M2006.7 921.8L1995.3 1022.2M1956.4 1047.8L1943.8 1080.8M1935.5 1144.4L1937.6 1165.2M1756.5 1254.6L1754.5 1255.3M1654.6 1282.1L1612.4 1290.6M1547.1 1300.0L1450.9 1309.0M1385.0 1313.0L1237.0 1317.7M1171.8 1325.9L1095.6 1342.8" stroke="#ff00ff" stroke-width="3.9" fill="none"/>
<polygon points="373.6,1350.7 401.1,1400.7 346.1,1400.7" fill="#ff00ff"/>
<polygon points="402.4,1348.7 429.9,1398.7 374.9,1398.7" fill="#ff00ff"/>
<polygon points="439.5,1345.7 467.0,1395.7 412.0,1395.7" fill="#ff00ff"/>
<polygon points="475.4,1342.7 502.9,1392.7 447.9,1392.7" fill="#ff00ff"/>
<polygon points="509.1,1340.7 536.6,1390.7 481.6,1390.7" fill="#ff00ff"/>
<polygon points="545.7,1338.3 573.2,1388.3 518.2,1388.3" fill="#ff00ff"/>
<polygon points="618.9,1335.3 646.4,1385.3 591.4,1385.3" fill="#ff00ff"/>
<polygon points="652.2,1337.7 679.7,1387.7 624.7,1387.7" fill="#ff00ff"/>
<polygon points="688.3,1329.7 715.8,1379.7 660.8,1379.7" fill="#ff00ff"/>
<polygon points="759.6,1332.7 787.1,1382.7 732.1,1382.7" fill="#ff00ff"/>
<polygon points="795.7,1327.7 823.2,1377.7 768.2,1377.7" fill="#ff00ff"/>
<polygon points="884.5,1322.2 912.0,1372.2 857.0,1372.2" fill="#ff00ff"/>
<polygon points="1028.3,1315.7 1055.8,1365.7 1000.8,1365.7" fill="#ff00ff"/>
<polygon points="1241.1,1308.3 1268.6,1358.3 1213.6,1358.3" fill="#ff00ff"/>
<polygon points="1418.0,1296.7 1445.5,1346.7 1390.5,1346.7" fill="#ff00ff"/>
<polygon points="1581.0,1284.7 1608.5,1334.7 1553.5,1334.7" fill="#ff00ff"/>
<polygon points="1687.0,1272.7 1714.5,1322.7 1659.5,1322.7" fill="#ff00ff"/>
<polygon points="1756.4,1264.3 1783.9,1314.3 1728.9,1314.3" fill="#ff00ff"/>
<polygon points="1819.6,1248.5 1847.1,1298.5 1792.1,1298.5" fill="#ff00ff"/>
<polygon points="1874.0,1224.0 1901.5,1274.0 1846.5,1274.0" fill="#ff00ff"/>
<polygon points="1911.0,1197.6 1938.5,1247.6 1883.5,1247.6" fill="#ff00ff"/>
<polygon points="1960.6,1129.7 1988.1,1179.7 1933.1,1179.7" fill="#ff00ff"/>
<polygon points="1979.0,1077.7 2006.5,1127.7 1951.5,1127.7" fill="#ff00ff"/>
<polygon points="2001.6,968.7 2029.1,1018.7 1974.1,1018.7" fill="#ff00ff"/>
<polygon points="2010.8,898.7 2038.3,948.7 1983.3,948.7" fill="#ff00ff"/>
<polygon points="2016.4,818.7 2043.9,868.7 1988.9,868.7" fill="#ff00ff"/>
<polygon points="2023.5,747.7 2051.0,797.7 1996.0,797.7" fill="#ff00ff"/>
<polygon points="2023.5,747.7 2051.0,797.7 1996.0,797.7" fill="#ff00ff"/>
<polygon points="2022.5,772.7 2050.0,822.7 1995.0,822.7" fill="#ff00ff"/>
<polygon points="2012.5,859.7 2040.0,909.7 1985.0,909.7" fill="#ff00ff"/>
<polygon points="2010.4,855.7 2037.9,905.7 1982.9,905.7" fill="#ff00ff"/>
<polygon points="1991.6,1021.7 2019.1,1071.7 1964.1,1071.7" fill="#ff00ff"/>
<polygon points="1968.1,983.7 1995.6,1033.7 1940.6,1033.7" fill="#ff00ff"/>
<polygon points="1932.1,1078.3 1959.6,1128.3 1904.6,1128.3" fill="#ff00ff"/>
<polygon points="1941.0,1164.7 1968.5,1214.7 1913.5,1214.7" fill="#ff00ff"/>
<polygon points="1879.5,1151.7 1907.0,1201.7 1852.0,1201.7" fill="#ff00ff"/>
<polygon points="1840.7,1183.5 1868.2,1233.5 1813.2,1233.5" fill="#ff00ff"/>
<polygon points="1788.0,1211.6 1815.5,1261.6 1760.5,1261.6" fill="#ff00ff"/>
<polygon points="1723.0,1231.7 1750.5,1281.7 1695.5,1281.7" fill="#ff00ff"/>
<polygon points="1687.0,1242.4 1714.5,1292.4 1659.5,1292.4" fill="#ff00ff"/>
<polygon points="1580.0,1263.7 1607.5,1313.7 1552.5,1313.7" fill="#ff00ff"/>
<polygon points="1418.0,1278.7 1445.5,1328.7 1390.5,1328.7" fill="#ff00ff"/>
<polygon points="1204.0,1285.4 1231.5,1335.4 1176.5,1335.4" fill="#ff00ff"/>
<polygon points="1063.4,1316.7 1090.9,1366.7 1035.9,1366.7" fill="#ff00ff"/>
<polygon points="380.9,1354.2 408.4,1404.2 353.4,1404.2" fill="#ff00ff"/>
</g>
<text x="229.4" y="153.6" font-family="'Liberation Sans', Arial, Helvetica, sans-serif" font-size="79.5" text-anchor="end" fill="#000">30</text>
<text x="229.4" y="601.8" font-family="'Liberation Sans', Arial, Helvetica, sans-serif" font-size="79.5" text-anchor="end" fill="#000">20</text>
<text x="229.2" y="1053.8" font-family="'Liberation Sans', Arial, Helvetica, sans-serif" font-size="79.5" text-anchor="end" fill="#000">10</text>
<text x="229.2" y="1500.0" font-family="'Liberation Sans', Arial, Helvetica, sans-serif" font-size="79.5" text-anchor="end" fill="#000">0</text>
<text x="259.6" y="1568.6" font-family="'Liberation Sans', Arial, Helvetica, sans-serif" font-size="79.5" text-anchor="middle" fill="#000">0.0</text>
<text x="616.5" y="1568.6" font-family="'Liberation Sans', Arial, Helvetica, sans-serif" font-size="79.5" text-anchor="middle" fill="#000">0.2</text>
<text x="973.4" y="1568.6" font-family="'Liberation Sans', Arial, Helvetica, sans-serif" font-size="79.5" text-anchor="middle" fill="#000">0.4</text>
<text x="1330.3" y="1568.6" font-family="'Liberation Sans', Arial, Helvetica, sans-serif" font-size="79.5" text-anchor="middle" fill="#000">0.6</text>
<text x="1687.2" y="1568.6" font-family="'Liberation Sans', Arial, Helvetica, sans-serif" font-size="79.5" text-anchor="middle" fill="#000">0.8</text>
<text x="2044.1" y="1568.6" font-family="'Liberation Sans', Arial, Helvetica, sans-serif" font-size="79.5" text-anchor="middle" fill="#000">1.0</text>
<g transform="matrix(1 0 0 1.056 0 -94.75)"><text x="672.3" y="1691.9" font-family="'Liberation Sans', Arial, Helvetica, sans-serif" font-size="88.5" fill="#000">Relative Pressure (P/P<tspan font-size="58" dy="22.0">0</tspan><tspan dy="-22.0">)</tspan></text></g>
<g transform="translate(106.3 1086.8) rotate(-90) matrix(1 0 0 1.056 0 0)"><text font-family="'Liberation Sans', Arial, Helvetica, sans-serif" fill="#000"><tspan x="-0.1" y="0" font-size="91.0">Q</tspan><tspan x="70.1 103.9 138.2" y="25.2" font-size="63.0">ads</tspan><tspan x="194.9 228.4 269.8" y="0" font-size="91.0">(cm</tspan><tspan x="345.5" y="-38.0" font-size="63.0">3</tspan><tspan x="379.3" y="0" font-size="91.0">g</tspan><tspan x="426.5 464.0" y="-38.0" font-size="63.0">&#8722;1</tspan><tspan x="521.7 581.5 637.1 704.4" y="0" font-size="91.0">STP)</tspan></text></g>
<path d="M138.3 914.7V929.2M138.3 940V947M138.3 950V959.7M138.3 972.7V979.3M138.3 984.3V997.4" stroke="#8ea0dc" stroke-width="2" fill="none"/>
<text x="1067.3" y="1811.5" font-family="'Liberation Serif', 'Times New Roman', Times, serif" font-size="86" text-anchor="middle" fill="#000"><tspan font-weight="normal">(</tspan><tspan font-weight="bold" font-size="90">c</tspan><tspan font-weight="normal">)</tspan></text>
<path d="M497.5 136.6H575.5M633.5 136.6H711" stroke="#ff0000" stroke-width="4.2" fill="none"/>
<circle cx="602.6" cy="136.6" r="22.3" fill="url(#ball)"/>
<circle cx="595.6" cy="128.6" r="9" fill="url(#hl)"/>
<g transform="matrix(1 0 0 1.056 0 -9.40)"><text x="735.5 800.4 858.4 891.4 944.8 971.2" y="167.9" font-family="'Liberation Sans', Arial, Helvetica, sans-serif" font-size="93.0" fill="#000">CT-8.7</text></g>
<path d="M497.5 252.7H575.5M633.5 252.7H711" stroke="#00ffff" stroke-width="4.2" fill="none"/>
<polygon points="602.6,227.5 624.4,240.1 624.4,265.3 602.6,277.9 580.8,265.3 580.8,240.1" fill="#fff" stroke="#00ffff" stroke-width="2.6"/><polygon points="624.4,252.7 624.4,265.3 602.6,277.9 580.8,265.3 580.8,252.7" fill="#00ffff" stroke="#00ffff" stroke-width="2.6"/>
<g transform="matrix(1 0 0 1.056 0 -15.90)"><text x="734.8 800.9 857.9 888.3 945.3" y="284.0" font-family="'Liberation Sans', Arial, Helvetica, sans-serif" font-size="93.0" fill="#000">CT-25</text></g>
<path d="M497.5 368.8H575.5M633.5 368.8H711" stroke="#0000ff" stroke-width="4.2" fill="none"/>
<rect x="583.4" y="349.5" width="38.5" height="38.5" fill="#0000ff"/>
<g transform="matrix(1 0 0 1.056 0 -22.41)"><text x="734.8 800.9 857.9 891.5 946.5 996.5 1021.3 1076.3" y="400.1" font-family="'Liberation Sans', Arial, Helvetica, sans-serif" font-size="93.0" fill="#000">CT-33.25</text></g>
<path d="M497.5 484.9H575.5M633.5 484.9H711" stroke="#808000" stroke-width="4.2" fill="none"/>
<polygon points="602.6,458.6 609.2,475.8 627.6,476.8 613.4,488.4 618.1,506.2 602.6,496.2 587.1,506.2 591.8,488.4 577.6,476.8 596.0,475.8" fill="#808000"/>
<g transform="matrix(1 0 0 1.056 0 -28.91)"><text x="734.8 800.9 857.9 888.9 947.9 996.5 1024.5" y="516.2" font-family="'Liberation Sans', Arial, Helvetica, sans-serif" font-size="93.0" fill="#000">CT-41.3</text></g>
<path d="M497.5 601.0H575.5M633.5 601.0H711" stroke="#ff00ff" stroke-width="4.2" fill="none"/>
<polygon points="602.6,567.7 630.1,617.7 575.1,617.7" fill="#ff00ff"/>
<g transform="matrix(1 0 0 1.056 0 -35.41)"><text x="734.8 800.9 857.9 888.9 945.6 996.5 1021.9 1076.3" y="632.3" font-family="'Liberation Sans', Arial, Helvetica, sans-serif" font-size="93.0" fill="#000">CT-49.45</text></g>
</svg></body></html>
